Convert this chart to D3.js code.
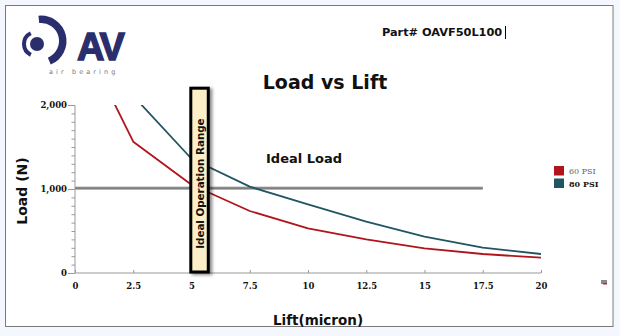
<!DOCTYPE html>
<html><head><meta charset="utf-8">
<script src="https://cdn.jsdelivr.net/npm/d3@7"></script>
<style>
html,body{margin:0;padding:0;background:#f4f7fd;}
svg{display:block;}
</style></head>
<body>
<script>
// ---- data ----
const lift = [1.25, 2.5, 5, 7.5, 10, 12.5, 15, 17.5, 20];
const psi60 = [2263, 1563, 1050, 738, 532, 401, 294, 226, 182];
const psi80 = [null, 2108, 1360, 1028, 818, 611, 432, 301, 226];
const seriesNames = ["60 PSI", "80 PSI"];
const seriesColors = ["#b0141c", "#215563"];
const xTicks = [0, 2.5, 5, 7.5, 10, 12.5, 15, 17.5, 20];
const yTicks = [0, 1000, 2000];
const idealLoad = [0, 17.5, 1010];        // x from, x to, load
const operationRange = [5, 5.75, 2200];   // x from, x to, top load

const W = 620, H = 336;
const svg = d3.select("body").append("svg").attr("width", W).attr("height", H);
const defs = svg.append("defs");

// frame
svg.append("rect").attr("x", 0).attr("y", 0).attr("width", W).attr("height", H).attr("fill", "#f4f7fd");
svg.append("rect").attr("x", 5.5).attr("y", 5.5).attr("width", 607.5).attr("height", 321)
  .attr("fill", "#fff").attr("stroke", "#7a7a7a").attr("stroke-width", 1);

// ---- logo ----
const logo = svg.append("g").attr("fill", "#2b2e6c");
const arc = d3.arc();
logo.append("path").attr("transform", "translate(41,41)")
  .attr("d", arc({innerRadius: 18, outerRadius: 25.5, startAngle: -0.1, endAngle: 2.75}));
logo.append("path").attr("transform", "translate(36,44)")
  .attr("d", arc({innerRadius: 10, outerRadius: 14, startAngle: -2.7, endAngle: -0.45}));
logo.append("circle").attr("cx", 37).attr("cy", 44).attr("r", 7);
logo.append("text").attr("x", 77).attr("y", 60).attr("font-family", "Liberation Sans, Arial, sans-serif")
  .attr("font-weight", "bold").attr("font-size", 38).attr("letter-spacing", -2)
  .attr("stroke", "#2b2e6c").attr("stroke-width", 1.4).text("AV");
svg.append("text").attr("x", 49).attr("y", 74).attr("font-family", "DejaVu Sans, sans-serif")
  .attr("font-size", 6.5).attr("letter-spacing", 3.1).attr("fill", "#777").text("air bearing");

// part number
svg.append("text").attr("x", 382).attr("y", 36).attr("font-family", "DejaVu Sans, sans-serif")
  .attr("font-weight", "bold").attr("font-size", 11.3).attr("fill", "#111").text("Part# OAVF50L100");
svg.append("line").attr("x1", 505.5).attr("x2", 505.5).attr("y1", 26).attr("y2", 39).attr("stroke", "#000").attr("stroke-width", 1);

// title
svg.append("text").attr("x", 325).attr("y", 89).attr("text-anchor", "middle")
  .attr("font-family", "DejaVu Sans, sans-serif").attr("font-weight", "bold").attr("font-size", 19)
  .attr("fill", "#111").text("Load vs Lift");

// ---- scales ----
const x = d3.scaleLinear().domain([0, 20]).range([75, 541]);
const y = d3.scaleLinear().domain([0, 2000]).range([273, 105]);

const tickFont = "DejaVu Serif, serif";

// y axis
const yAxis = svg.append("g").attr("transform", "translate(75,0)");
yAxis.call(d3.axisLeft(y).tickValues(d3.range(0, 2001, 100)).tickSize(3.5).tickFormat(""));
yAxis.call(g => g.select(".domain").remove());
yAxis.selectAll(".tick line").attr("stroke", "#999");
const yMajor = svg.append("g").attr("transform", "translate(75,0)")
  .call(d3.axisLeft(y).tickValues(yTicks).tickSize(7).tickFormat(d3.format(",")));
yMajor.select(".domain").attr("stroke", "#999").attr("d", `M0,${y(0)}V${y(2000)}`);
yMajor.selectAll(".tick line").attr("stroke", "#999");
yMajor.selectAll(".tick text").attr("font-family", tickFont).attr("font-weight", "bold")
  .attr("font-size", 8.5).attr("fill", "#111").attr("x", -8);

// x axis
const xAxis = svg.append("g").attr("transform", "translate(0,273)")
  .call(d3.axisTop(x).tickValues(xTicks).tickSize(3).tickFormat(""));
xAxis.select(".domain").attr("stroke", "#999").attr("d", `M${x(0)},0H${x(20)}`);
xAxis.selectAll(".tick line").attr("stroke", "#999");
const xLab = svg.append("g").attr("transform", "translate(0,273)")
  .call(d3.axisBottom(x).tickValues(xTicks).tickSize(0).tickPadding(10).tickFormat(d3.format("")));
xLab.select(".domain").remove();
xLab.selectAll(".tick text").attr("font-family", tickFont).attr("font-weight", "bold")
  .attr("font-size", 8.5).attr("fill", "#111");

// axis titles
svg.append("text").attr("transform", `translate(27,${(y(0) + y(2000)) / 2 + 2}) rotate(-90)`)
  .attr("text-anchor", "middle").attr("font-family", "DejaVu Sans, sans-serif").attr("font-weight", "bold")
  .attr("font-size", 14).attr("fill", "#111").text("Load (N)");
svg.append("text").attr("x", 318).attr("y", 325).attr("text-anchor", "middle")
  .attr("font-family", "DejaVu Sans, sans-serif").attr("font-weight", "bold")
  .attr("font-size", 13.5).attr("fill", "#111").text("Lift(micron)");

// ideal load line
svg.append("line").attr("x1", x(idealLoad[0])).attr("x2", x(idealLoad[1]))
  .attr("y1", y(idealLoad[2])).attr("y2", y(idealLoad[2])).attr("stroke", "#b5b5b5").attr("stroke-width", 3.5);
svg.append("line").attr("x1", x(idealLoad[0])).attr("x2", x(idealLoad[1]))
  .attr("y1", y(idealLoad[2])).attr("y2", y(idealLoad[2])).attr("stroke", "#7f7f7f").attr("stroke-width", 1.8);
svg.append("text").attr("x", 266).attr("y", 163).attr("font-family", "DejaVu Sans, sans-serif")
  .attr("font-weight", "bold").attr("font-size", 13).attr("fill", "#111").text("Ideal Load");

// clip & series lines
defs.append("clipPath").attr("id", "plot").append("rect")
  .attr("x", x(0)).attr("y", y(2000)).attr("width", x(20) - x(0)).attr("height", y(0) - y(2000));
const seriesData = [psi60, psi80];
const line = d3.line().defined(d => d[1] != null).x(d => x(d[0])).y(d => y(d[1]));
svg.append("g").attr("clip-path", "url(#plot)").selectAll("path").data(seriesData).join("path")
  .attr("d", s => line(lift.map((l, i) => [l, s[i]])))
  .attr("fill", "none").attr("stroke", (s, i) => seriesColors[i]).attr("stroke-width", 1.8)
  .attr("stroke-linejoin", "round");

// operation range box
const filt = defs.append("filter").attr("id", "sh").attr("x", "-50%").attr("y", "-10%").attr("width", "200%").attr("height", "120%");
filt.append("feDropShadow").attr("dx", 2.5).attr("dy", 1.5).attr("stdDeviation", 1.5).attr("flood-color", "#000").attr("flood-opacity", 0.45);
const bx0 = x(operationRange[0]), bx1 = x(operationRange[1]);
svg.append("rect").attr("x", bx0 - 0.7).attr("y", y(operationRange[2]))
  .attr("width", bx1 - bx0).attr("height", y(0) - y(operationRange[2]) - 1)
  .attr("fill", "#fcefc7").attr("stroke", "#000").attr("stroke-width", 3).attr("filter", "url(#sh)");
svg.append("text").attr("transform", `translate(${(bx0 + bx1) / 2 + 3.5},${(y(operationRange[2]) + y(0)) / 2 + 3}) rotate(-90)`)
  .attr("text-anchor", "middle").attr("font-family", "DejaVu Sans, sans-serif").attr("font-weight", "bold")
  .attr("font-size", 10.3).attr("fill", "#111").text("Ideal Operation Range");

// legend
const leg = svg.append("g");
seriesNames.forEach((n, i) => {
  leg.append("rect").attr("x", 554).attr("y", 166 + i * 12.5).attr("width", 10).attr("height", 9.5).attr("fill", seriesColors[i]);
  leg.append("text").attr("x", 569).attr("y", 174 + i * 12.5).attr("font-family", tickFont)
    .attr("font-size", 8).attr("font-weight", i === 1 ? "bold" : "normal")
    .attr("fill", i === 1 ? "#111" : "#666").text(n);
});

// small icon
svg.append("rect").attr("x", 601).attr("y", 280).attr("width", 6).attr("height", 4).attr("fill", "#8a8a8a");
svg.append("rect").attr("x", 603).attr("y", 283).attr("width", 4).attr("height", 1.5).attr("fill", "#d0202a");
</script>
</body></html>
